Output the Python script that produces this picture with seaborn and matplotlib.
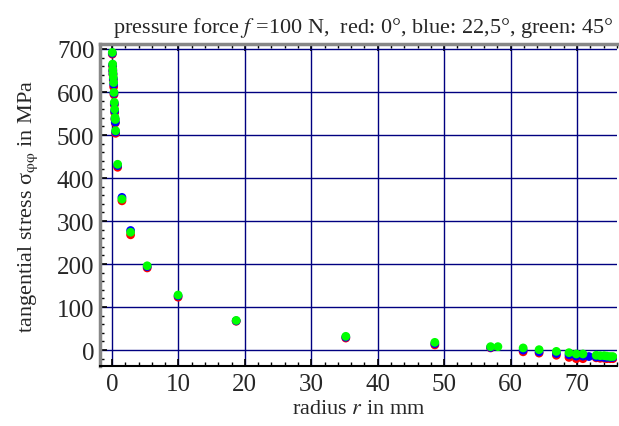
import numpy as np
import pandas as pd
import matplotlib
matplotlib.use('Agg')
import matplotlib.pyplot as plt
from matplotlib.ticker import MultipleLocator
import seaborn as sns

nan = np.nan

# radius in mm (shared by all three angles)
radius = [0.05, 0.1, 0.12, 0.15, 0.2, 0.25, 0.3, 0.35, 0.4, 0.45, 0.5, 0.55,
          0.85, 1.5, 2.8, 5.3, 9.95, 18.7, 35.2, 48.6, 57.0, 58.1, 61.9, 64.3,
          66.9, 68.8, 69.9, 70.9, 71.8, 72.9, 73.5, 74.1, 74.5, 75.0, 75.4]

# tangential stress in MPa
stress_0 = [688, 660, 648, 640, 628, 612, 594, 570, 552, 536, 528, 504,
            425, 347, 268, 191, 123, 67, 28, 12, 5, nan, -4, -7,
            -12, -17, -20, -20, nan, -18, -19, -19, -20, -20, -20]
stress_22_5 = [690, 663, 650, 642, 631, 618, 597, 573, 556, 538, 530, 507,
               429, 355, 278, 194, 126, 68, 30, 15, 6, nan, 0, -4,
               -8, -11, -14, -14, -15, -16, -16, -17, -17, -17, -17]
stress_45 = [692, 665, 653, 644, 634, 622, 599, 576, 560, 541, 536, 510,
             432, 351, 274, 196, 128, 69, 32, 18, 8, 8, 5, 1,
             -3, -6, -9, -9, nan, -12, -13, -13, -14, -15, -15]

angles = ['0°', '22,5°', '45°']
colors = ['#ff0000', '#0000ff', '#00ff00']

df = pd.concat([
    pd.DataFrame({'r': radius, 'stress': s, 'angle': a})
    for s, a in zip([stress_0, stress_22_5, stress_45], angles)
]).dropna()

sns.set_style('white')
plt.rcParams['font.family'] = ['Liberation Serif', 'DejaVu Serif']
plt.rcParams['mathtext.fontset'] = 'stix'

fig = plt.figure(figsize=(6.19, 4.27), dpi=100)
ax = fig.add_axes([0.1616, 0.1405, 0.8354, 0.7541])

ax.set_xlim(-1.8, 76.05)
ax.set_ylim(-37, 711.6)
ax.xaxis.set_major_locator(MultipleLocator(10))
ax.xaxis.set_minor_locator(MultipleLocator(2))
ax.yaxis.set_major_locator(MultipleLocator(100))
ax.yaxis.set_minor_locator(MultipleLocator(20))
ax.grid(True, which='major', color='#000080', linewidth=1.0)
ax.set_axisbelow(True)

sns.scatterplot(data=df, x='r', y='stress', hue='angle', hue_order=angles,
                palette=colors, s=40, linewidth=0, legend=False, ax=ax,
                zorder=3)

for side in ['left', 'top']:
    ax.spines[side].set_color('#888888')
    ax.spines[side].set_linewidth(2.5)
ax.spines['bottom'].set_color('black')
ax.spines['bottom'].set_linewidth(1.5)
ax.spines['right'].set_visible(False)

ax.tick_params(axis='x', which='both', direction='in', top=True, bottom=True,
               labelsize=18, pad=5)
ax.tick_params(axis='y', which='both', direction='in', left=True, right=False,
               labelsize=18, pad=4)
ax.tick_params(which='major', length=5, width=1.2, color='black')
ax.tick_params(which='minor', length=3, width=1.0, color='black')

ax.set_xlabel('radius $r$ in mm', fontsize=16, labelpad=3)
ax.set_ylabel('tangential stress σ$_{\\mathrm{φφ}}$ in MPa', fontsize=16,
              labelpad=12)
ax.set_title('pressure force $f$ =100 N,  red: 0°, blue: 22,5°, green: 45°',
             fontsize=16, pad=9, x=0.51)

fig.savefig('out.png', dpi=100)
